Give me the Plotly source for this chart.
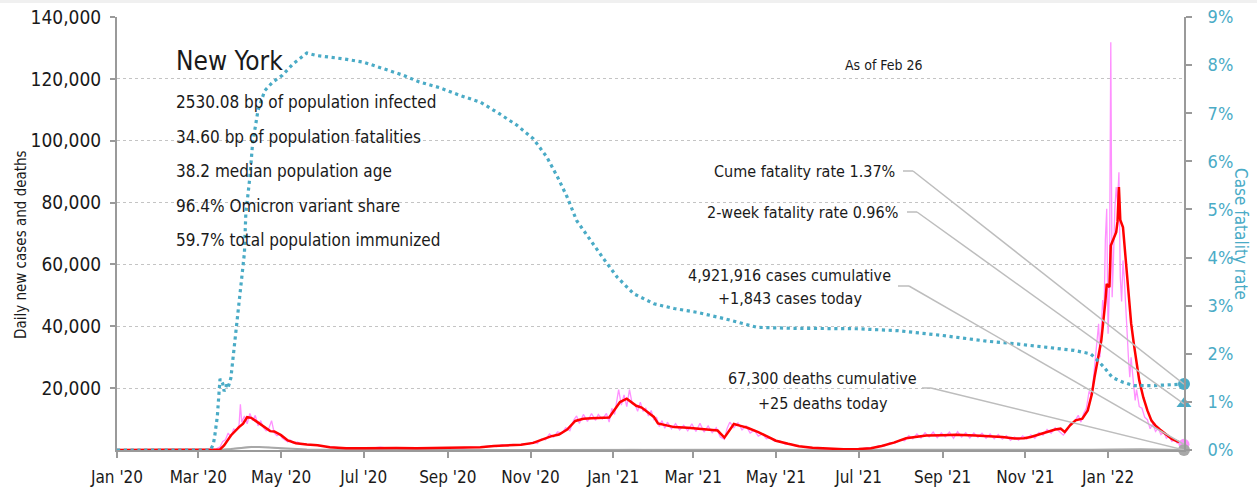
import plotly.graph_objects as go
from datetime import datetime

# ---------------- data ----------------
# 7-day average of daily new cases (red)
avg_dates = ["2020-01-01", "2020-03-10", "2020-03-17", "2020-03-20", "2020-03-25", "2020-03-31",
             "2020-04-03", "2020-04-06", "2020-04-09", "2020-04-12", "2020-04-15", "2020-04-19",
             "2020-04-23", "2020-04-26", "2020-05-01", "2020-05-06", "2020-05-12", "2020-05-20",
             "2020-05-28", "2020-06-06", "2020-06-18", "2020-07-01", "2020-07-15", "2020-07-25",
             "2020-08-09", "2020-08-25", "2020-09-10", "2020-09-25", "2020-10-05", "2020-10-15",
             "2020-10-25", "2020-11-03", "2020-11-10", "2020-11-16", "2020-11-22", "2020-11-28",
             "2020-12-04", "2020-12-10", "2020-12-16", "2020-12-22", "2020-12-29", "2021-01-02",
             "2021-01-06", "2021-01-11", "2021-01-14", "2021-01-18", "2021-01-22", "2021-01-27",
             "2021-01-31", "2021-02-03", "2021-02-06", "2021-02-10", "2021-02-15", "2021-02-25",
             "2021-03-05", "2021-03-12", "2021-03-19", "2021-03-24", "2021-03-31", "2021-04-05",
             "2021-04-10", "2021-04-18", "2021-04-25", "2021-05-01", "2021-05-10", "2021-05-18",
             "2021-05-28", "2021-06-08", "2021-06-20", "2021-07-01", "2021-07-10", "2021-07-18",
             "2021-07-27", "2021-08-05", "2021-08-12", "2021-08-20", "2021-09-01", "2021-09-11",
             "2021-09-25", "2021-10-05", "2021-10-15", "2021-10-24", "2021-10-31", "2021-11-05",
             "2021-11-12", "2021-11-17", "2021-11-23", "2021-11-27", "2021-11-30", "2021-12-04",
             "2021-12-08", "2021-12-13", "2021-12-17", "2021-12-20", "2021-12-22", "2021-12-25",
             "2021-12-27", "2021-12-30", "2021-12-31", "2022-01-02", "2022-01-03", "2022-01-07",
             "2022-01-08", "2022-01-09", "2022-01-10", "2022-01-12", "2022-01-14", "2022-01-16",
             "2022-01-18", "2022-01-20", "2022-01-22", "2022-01-24", "2022-01-27", "2022-01-30",
             "2022-02-02", "2022-02-05", "2022-02-08", "2022-02-11", "2022-02-14", "2022-02-17",
             "2022-02-21", "2022-02-24", "2022-02-26"]
avg_cases = [0, 0, 200, 1500, 4700, 7400,
             8500, 10600, 10400, 9500, 8500, 7300,
             6100, 6000, 4800, 3100, 2200, 1800,
             1500, 900, 550, 600, 750, 650,
             550, 600, 700, 900, 1300, 1500,
             1700, 2300, 3300, 4400, 5000, 6600,
             9400, 10100, 10300, 10300, 10500, 13000,
             15500, 16600, 15500, 14300, 13700, 12000,
             10700, 8600, 8300, 8000, 7400, 7200,
             6900, 6700, 6300, 4000, 8400, 7800,
             7200, 5800, 4200, 3000, 2000, 1200,
             700, 400, 250, 300, 600, 1300,
             2400, 3800, 4300, 4700, 4800, 4900,
             4700, 4500, 4200, 3700, 3800, 4200,
             5000, 5800, 6600, 6900, 5800, 8000,
             9600, 10100, 12800, 18000, 23500, 30000,
             35400, 48000, 53700, 52600, 66100, 70400,
             74000, 85000, 74400, 72000, 62000, 49400,
             41000, 34300, 27500, 22500, 17000, 12800,
             9500, 7900, 6700, 5700, 4600, 3600,
             2800, 2200, 1900]

# daily new cases (pink)
daily_dates = ["2020-03-01", "2020-03-10", "2020-03-14", "2020-03-17", "2020-03-19", "2020-03-21",
               "2020-03-23", "2020-03-25", "2020-03-27", "2020-03-29", "2020-03-31", "2020-04-01",
               "2020-04-02", "2020-04-04", "2020-04-06", "2020-04-08", "2020-04-10", "2020-04-12",
               "2020-04-14", "2020-04-16", "2020-04-18", "2020-04-20", "2020-04-22", "2020-04-24",
               "2020-04-26", "2020-04-28", "2020-04-30", "2020-05-02", "2020-05-04", "2020-05-06",
               "2020-05-08", "2020-05-10", "2020-05-13", "2020-05-16", "2020-05-19", "2020-05-22",
               "2020-05-26", "2020-05-30", "2020-06-04", "2020-06-08", "2020-06-12", "2020-06-17",
               "2020-06-22", "2020-06-28", "2020-07-03", "2020-07-08", "2020-07-13", "2020-07-18",
               "2020-07-23", "2020-07-28", "2020-08-03", "2020-08-08", "2020-08-14", "2020-08-20",
               "2020-08-26", "2020-09-01", "2020-09-06", "2020-09-12", "2020-09-18", "2020-09-24",
               "2020-09-29", "2020-10-03", "2020-10-07", "2020-10-11", "2020-10-15", "2020-10-19",
               "2020-10-23", "2020-10-27", "2020-10-31", "2020-11-03", "2020-11-06", "2020-11-09",
               "2020-11-12", "2020-11-15", "2020-11-18", "2020-11-21", "2020-11-24", "2020-11-27",
               "2020-11-30", "2020-12-03", "2020-12-05", "2020-12-07", "2020-12-10", "2020-12-13",
               "2020-12-16", "2020-12-19", "2020-12-21", "2020-12-24", "2020-12-27", "2020-12-29",
               "2020-12-31", "2021-01-02", "2021-01-05", "2021-01-07", "2021-01-09", "2021-01-11",
               "2021-01-13", "2021-01-15", "2021-01-17", "2021-01-19", "2021-01-21", "2021-01-23",
               "2021-01-25", "2021-01-27", "2021-01-29", "2021-01-31", "2021-02-02", "2021-02-04",
               "2021-02-06", "2021-02-08", "2021-02-10", "2021-02-13", "2021-02-16", "2021-02-19",
               "2021-02-22", "2021-02-25", "2021-02-28", "2021-03-03", "2021-03-06", "2021-03-09",
               "2021-03-12", "2021-03-15", "2021-03-18", "2021-03-21", "2021-03-24", "2021-03-26",
               "2021-03-28", "2021-03-31", "2021-04-03", "2021-04-06", "2021-04-09", "2021-04-12",
               "2021-04-15", "2021-04-18", "2021-04-21", "2021-04-24", "2021-04-27", "2021-04-30",
               "2021-05-04", "2021-05-08", "2021-05-12", "2021-05-16", "2021-05-20", "2021-05-25",
               "2021-05-30", "2021-06-05", "2021-06-12", "2021-06-20", "2021-06-28", "2021-07-04",
               "2021-07-08", "2021-07-12", "2021-07-16", "2021-07-20", "2021-07-24", "2021-07-28",
               "2021-08-01", "2021-08-04", "2021-08-07", "2021-08-10", "2021-08-13", "2021-08-16",
               "2021-08-19", "2021-08-22", "2021-08-25", "2021-08-28", "2021-08-31", "2021-09-03",
               "2021-09-06", "2021-09-09", "2021-09-12", "2021-09-15", "2021-09-18", "2021-09-21",
               "2021-09-24", "2021-09-27", "2021-09-30", "2021-10-03", "2021-10-06", "2021-10-09",
               "2021-10-12", "2021-10-15", "2021-10-18", "2021-10-21", "2021-10-24", "2021-10-27",
               "2021-10-30", "2021-11-02", "2021-11-05", "2021-11-08", "2021-11-11", "2021-11-14",
               "2021-11-17", "2021-11-20", "2021-11-23", "2021-11-26", "2021-11-29", "2021-12-02",
               "2021-12-04", "2021-12-07", "2021-12-10", "2021-12-12", "2021-12-14", "2021-12-16",
               "2021-12-18", "2021-12-20", "2021-12-22", "2021-12-24", "2021-12-25", "2021-12-26",
               "2021-12-28", "2021-12-29", "2021-12-30", "2021-12-31", "2022-01-01", "2022-01-02",
               "2022-01-03", "2022-01-04", "2022-01-05", "2022-01-06", "2022-01-07", "2022-01-08",
               "2022-01-09", "2022-01-10", "2022-01-11", "2022-01-12", "2022-01-13", "2022-01-14",
               "2022-01-15", "2022-01-16", "2022-01-17", "2022-01-18", "2022-01-19", "2022-01-20",
               "2022-01-21", "2022-01-22", "2022-01-24", "2022-01-26", "2022-01-28", "2022-01-30",
               "2022-02-01", "2022-02-03", "2022-02-05", "2022-02-07", "2022-02-09", "2022-02-11",
               "2022-02-13", "2022-02-15", "2022-02-17", "2022-02-19", "2022-02-21", "2022-02-23",
               "2022-02-25", "2022-02-26"]
daily_cases = [0, 50, 300, 1000, 2800, 3300,
               5500, 4200, 6800, 6500, 8000, 14800,
               9000, 11000, 8500, 11800, 9500, 11200,
               7800, 9500, 7200, 6200, 7000, 9500,
               5500, 4600, 5200, 3800, 3200, 2600,
               3200, 2200, 2600, 1800, 2000, 1500,
               1700, 1200, 1100, 900, 700, 600,
               750, 550, 800, 650, 900, 700,
               800, 600, 700, 500, 650, 550,
               700, 600, 800, 650, 900, 800,
               1200, 1400, 1100, 1700, 1300, 1800,
               1500, 2000, 1800, 2600, 2100, 3600,
               3300, 5200, 4200, 5900, 5300, 7200,
               6200, 9800, 11000, 8600, 11500, 9200,
               11800, 9600, 11500, 10000, 11800, 9000,
               13500, 11500, 19500, 14500, 17800, 14000,
               19500, 15000, 14800, 12500, 15500, 12500,
               13500, 11000, 12800, 9800, 10500, 7600,
               9500, 7000, 9000, 6800, 8500, 6500,
               8000, 6200, 8500, 6000, 8600, 5800,
               7800, 5600, 7200, 4200, 3500, 7000,
               9000, 7200, 8800, 6500, 7800, 5500,
               6400, 4500, 5200, 3600, 4000, 2800,
               2900, 1800, 2000, 1200, 1200, 700,
               600, 450, 350, 250, 350, 450,
               800, 700, 1400, 1300, 2400, 2200,
               3300, 3000, 4600, 3600, 5200, 3900,
               5600, 4200, 5800, 4000, 5500, 4300,
               5800, 3800, 5900, 4200, 5600, 3900,
               5500, 4100, 5400, 3800, 5200, 3600,
               5000, 3500, 4600, 3100, 4200, 3200,
               4600, 3500, 4900, 3800, 5600, 4800,
               6600, 5400, 7200, 6000, 4800, 6500,
               8500, 9000, 11200, 9000, 11800, 13500,
               19000, 17500, 28000, 36000, 40800, 30000,
               48500, 44000, 68000, 78000, 37600, 52000,
               131800, 49400, 62000, 78000, 85000, 80000,
               89800, 55900, 48000, 61300, 55000, 45100,
               40000, 30000, 23500, 30000, 25000, 20300,
               16000, 19500, 14000, 13500, 10600, 9800,
               6850, 8500, 6000, 7000, 5000, 5800,
               3800, 4500, 2800, 3200, 2200, 2600,
               1700, 1843]

# daily deaths (grey): 7-day average and daily counts
death_dates = ["2020-01-01", "2020-03-15", "2020-03-25", "2020-04-02", "2020-04-09", "2020-04-15",
               "2020-04-22", "2020-05-01", "2020-05-10", "2020-05-20", "2020-06-01", "2020-06-15",
               "2020-07-01", "2020-09-01", "2020-11-01", "2020-12-01", "2020-12-20", "2021-01-15",
               "2021-02-01", "2021-03-01", "2021-04-01", "2021-05-01", "2021-06-01", "2021-07-01",
               "2021-08-01", "2021-09-01", "2021-10-01", "2021-11-01", "2021-12-01", "2021-12-20",
               "2022-01-05", "2022-01-15", "2022-01-25", "2022-02-05", "2022-02-15", "2022-02-26"]
death_avg = [0, 0, 300, 700, 1000, 950,
             750, 500, 300, 150, 80, 40,
             20, 15, 25, 60, 110, 170,
             150, 110, 80, 50, 20, 8,
             20, 45, 45, 35, 50, 70,
             200, 290, 250, 140, 60, 35]
death_daily = [0, 0, 400, 900, 1150, 800,
               900, 350, 400, 120, 100, 30,
               30, 10, 40, 40, 150, 200,
               120, 140, 60, 70, 15, 12,
               30, 35, 60, 25, 70, 50,
               260, 250, 310, 110, 80, 25]

# case fatality rate, % (teal, right axis)
cfr_dates = ["2020-01-01", "2020-03-10", "2020-03-12", "2020-03-13", "2020-03-15", "2020-03-16",
             "2020-03-17", "2020-03-19", "2020-03-20", "2020-03-22", "2020-03-23", "2020-03-25",
             "2020-03-26", "2020-03-28", "2020-03-30", "2020-04-02", "2020-04-04", "2020-04-05",
             "2020-04-08", "2020-04-10", "2020-04-14", "2020-04-19", "2020-04-25", "2020-05-02",
             "2020-05-10", "2020-05-20", "2020-05-27", "2020-06-16", "2020-07-01", "2020-07-15",
             "2020-07-30", "2020-08-11", "2020-08-26", "2020-09-10", "2020-09-25", "2020-10-09",
             "2020-10-22", "2020-11-03", "2020-11-13", "2020-11-21", "2020-11-28", "2020-12-05",
             "2020-12-15", "2020-12-25", "2021-01-04", "2021-01-16", "2021-01-31", "2021-02-15",
             "2021-03-04", "2021-03-24", "2021-04-17", "2021-05-12", "2021-06-30", "2021-07-30",
             "2021-09-01", "2021-10-04", "2021-10-24", "2021-11-17", "2021-12-07", "2021-12-19",
             "2021-12-23", "2021-12-29", "2022-01-04", "2022-01-12", "2022-01-20", "2022-02-04",
             "2022-02-21", "2022-02-26"]
cfr_vals = [0, 0, 0.12, 0.27, 0.7, 1.15,
            1.48, 1.38, 1.22, 1.36, 1.3, 1.5,
            1.76, 2.2, 2.85, 3.55, 4.1, 4.9,
            5.67, 6.37, 7.06, 7.47, 7.65, 7.79,
            8.03, 8.25, 8.2, 8.13, 8.06, 7.93,
            7.79, 7.65, 7.53, 7.37, 7.23, 6.99,
            6.75, 6.47, 6.09, 5.67, 5.26, 4.77,
            4.36, 3.97, 3.59, 3.25, 3.04, 2.94,
            2.86, 2.73, 2.55, 2.53, 2.52, 2.48,
            2.38, 2.26, 2.21, 2.14, 2.07, 2.0,
            1.9, 1.72, 1.51, 1.41, 1.34, 1.34,
            1.36, 1.37]

# latest readings
as_of_date = "2022-02-26"
cume_cfr = 1.37
twoweek_cfr = 0.96
cases_today = 1843
deaths_today = 25
cases_cum = "4,921,916"
deaths_cum = "67,300"

state_name = "New York"
stats_lines = ["2530.08 bp of population infected",
               "34.60 bp of population fatalities",
               "38.2 median population age",
               "96.4% Omicron variant share",
               "59.7% total population immunized"]

x_tick_dates = ["2020-01-01", "2020-03-01", "2020-05-01", "2020-07-01", "2020-09-01", "2020-11-01",
                "2021-01-01", "2021-03-01", "2021-05-01", "2021-07-01", "2021-09-01", "2021-11-01",
                "2022-01-01"]
y_ticks = [20000, 40000, 60000, 80000, 100000, 120000, 140000]
y2_ticks = [0, 1, 2, 3, 4, 5, 6, 7, 8, 9]
y2_ticktext = [f"{v}%" for v in y2_ticks]

# ---------------- styling ----------------
NARROW = "DejaVu Sans Condensed, Liberation Sans Narrow, sans-serif"
TXT = "#1a1a1a"
TEAL = "#4aabc6"
RED = "#ff0000"
PINK = "#ff90ff"
GREY = "#a8a8a8"
AXIS = "#9a9a9a"
LEADER = "#bdbdbd"

W, H = 1257, 491
L, R, T, B = 117, 1184, 17, 450  # plot area, in window pixels
X_START, X_END = datetime(2020, 1, 1), datetime(2022, 2, 26)
Y_MAX, Y2_MAX = 140000, 9


def px(X):  # window pixel x -> paper
    return (X - L) / (R - L)


def py(Y):  # window pixel y -> paper
    return (B - Y) / (B - T)


def xdate(X):  # window pixel x -> date on x axis
    return (X_START + (X_END - X_START) * px(X)).strftime("%Y-%m-%d %H:%M")


def yv(Y):
    return py(Y) * Y_MAX


def y2v(Y):
    return py(Y) * Y2_MAX


fig = go.Figure()

fig.add_trace(go.Scatter(x=death_dates, y=death_daily, mode="lines",
                         line=dict(color="#c4c4c4", width=1), hoverinfo="skip"))
fig.add_trace(go.Scatter(x=death_dates, y=death_avg, mode="lines",
                         line=dict(color=GREY, width=2), hoverinfo="skip"))
fig.add_trace(go.Scatter(x=daily_dates, y=daily_cases, mode="lines",
                         line=dict(color=PINK, width=1.3), hoverinfo="skip"))
fig.add_trace(go.Scatter(x=avg_dates, y=avg_cases, mode="lines",
                         line=dict(color=RED, width=2.5), hoverinfo="skip"))
fig.add_trace(go.Scatter(x=cfr_dates, y=cfr_vals, mode="lines", yaxis="y2",
                         line=dict(color=TEAL, width=3.2, dash="3.2px,3.6px"), hoverinfo="skip"))

# end-of-series markers
fig.add_trace(go.Scatter(x=[as_of_date], y=[cases_today], mode="markers", cliponaxis=False,
                         marker=dict(color=PINK, size=11, symbol="circle"), hoverinfo="skip"))
fig.add_trace(go.Scatter(x=[as_of_date], y=[deaths_today], mode="markers", cliponaxis=False,
                         marker=dict(color=GREY, size=12, symbol="circle"), hoverinfo="skip"))
fig.add_trace(go.Scatter(x=[as_of_date], y=[cume_cfr], mode="markers", yaxis="y2", cliponaxis=False,
                         marker=dict(color=TEAL, size=12, symbol="circle"), hoverinfo="skip"))
fig.add_trace(go.Scatter(x=[as_of_date], y=[twoweek_cfr], mode="markers", yaxis="y2", cliponaxis=False,
                         marker=dict(color=TEAL, size=13, symbol="triangle-up"), hoverinfo="skip"))

# leader lines from the labels to the end markers
shapes = []


def leader(x0, y0, x1, yref, yconv, end_y):
    shapes.append(dict(type="line", xref="x", yref=yref, x0=xdate(x0), y0=yconv(y0),
                       x1=xdate(x1), y1=yconv(y0), line=dict(color=LEADER, width=1.5)))
    shapes.append(dict(type="line", xref="x", yref=yref, x0=xdate(x1), y0=yconv(y0),
                       x1=as_of_date, y1=end_y, line=dict(color=LEADER, width=1.5)))


leader(903, 171, 913, "y2", y2v, cume_cfr)
leader(907, 212, 917, "y2", y2v, twoweek_cfr)
leader(898, 286, 909, "y", yv, cases_today)
leader(922, 388, 931, "y", yv, deaths_today)

# light band along the very top of the page
shapes.append(dict(type="rect", xref="paper", yref="paper", x0=px(0), x1=px(W), y0=py(3), y1=py(0),
                   fillcolor="#f0f0f0", line=dict(width=0), layer="below"))

annotations = []


def text(s, X, Y, size, xanchor="left", color=TXT, angle=0):
    annotations.append(dict(text=s, x=px(X), y=py(Y), xref="paper", yref="paper",
                            xanchor=xanchor, yanchor="middle", showarrow=False, textangle=angle,
                            font=dict(family=NARROW, size=size, color=color)))


text(state_name, 174, 61, 26)
for i, s in enumerate(stats_lines):
    text(s, 174, 102 + i * 34.6, 17)
text("As of Feb 26", 884, 65, 14, xanchor="center")
text(f"Cume fatality rate {cume_cfr:.2f}%", 897, 172, 16, xanchor="right")
text(f"2-week fatality rate {twoweek_cfr:.2f}%", 900, 213, 16, xanchor="right")
text(f"{cases_cum} cases cumulative", 789, 275, 16, xanchor="center")
text(f"+{cases_today:,} cases today", 790, 299, 16, xanchor="center")
text(f"{deaths_cum} deaths cumulative", 822, 378, 16, xanchor="center")
text(f"+{deaths_today} deaths today", 823, 403, 16, xanchor="center")
text("Daily new cases and deaths", 21, 245, 15, xanchor="center", angle=-90)
text("Case fatality rate", 1241, 234, 17, xanchor="center", color=TEAL, angle=90)

fig.update_layout(
    width=W, height=H,
    margin=dict(l=L, r=W - R, t=T, b=H - B, autoexpand=False),
    paper_bgcolor="white", plot_bgcolor="white",
    showlegend=False,
    shapes=shapes, annotations=annotations,
    font=dict(family=NARROW, color=TXT),
    xaxis=dict(type="date", range=[X_START.strftime("%Y-%m-%d"), as_of_date],
               tickvals=x_tick_dates, tickformat="%b '%y", automargin=False,
               ticks="outside", ticklen=6, tickwidth=1.5, tickcolor=AXIS,
               showline=True, linecolor=AXIS, linewidth=2, showgrid=False, zeroline=False,
               tickfont=dict(family=NARROW, size=17, color=TXT), ticklabelstandoff=5,
               ticklabeloverflow="allow"),
    yaxis=dict(range=[0, Y_MAX], tickvals=y_ticks, tickformat=",", automargin=False,
               ticks="outside", ticklen=5, tickwidth=1.5, tickcolor=AXIS,
               showline=True, linecolor=AXIS, linewidth=2,
               showgrid=True, gridcolor="#c4c4c4", griddash="dot", gridwidth=1, zeroline=False,
               tickfont=dict(family=NARROW, size=19, color=TXT), ticklabelstandoff=5,
               ticklabeloverflow="allow"),
    yaxis2=dict(range=[0, Y2_MAX], overlaying="y", side="right", tickvals=y2_ticks,
                ticktext=y2_ticktext, ticks="outside", ticklen=6, tickwidth=1.5, tickcolor=AXIS,
                showline=True, linecolor=AXIS, linewidth=2, showgrid=False, zeroline=False,
                automargin=False, ticklabeloverflow="allow",
                tickfont=dict(family=NARROW, size=18, color=TEAL), ticklabelstandoff=12),
)

# place the figure flush with the window's top-left corner (no default page margin)
fig.write_html("out.html", config={"displayModeBar": False},
               post_script="document.body.style.margin='0px';")
